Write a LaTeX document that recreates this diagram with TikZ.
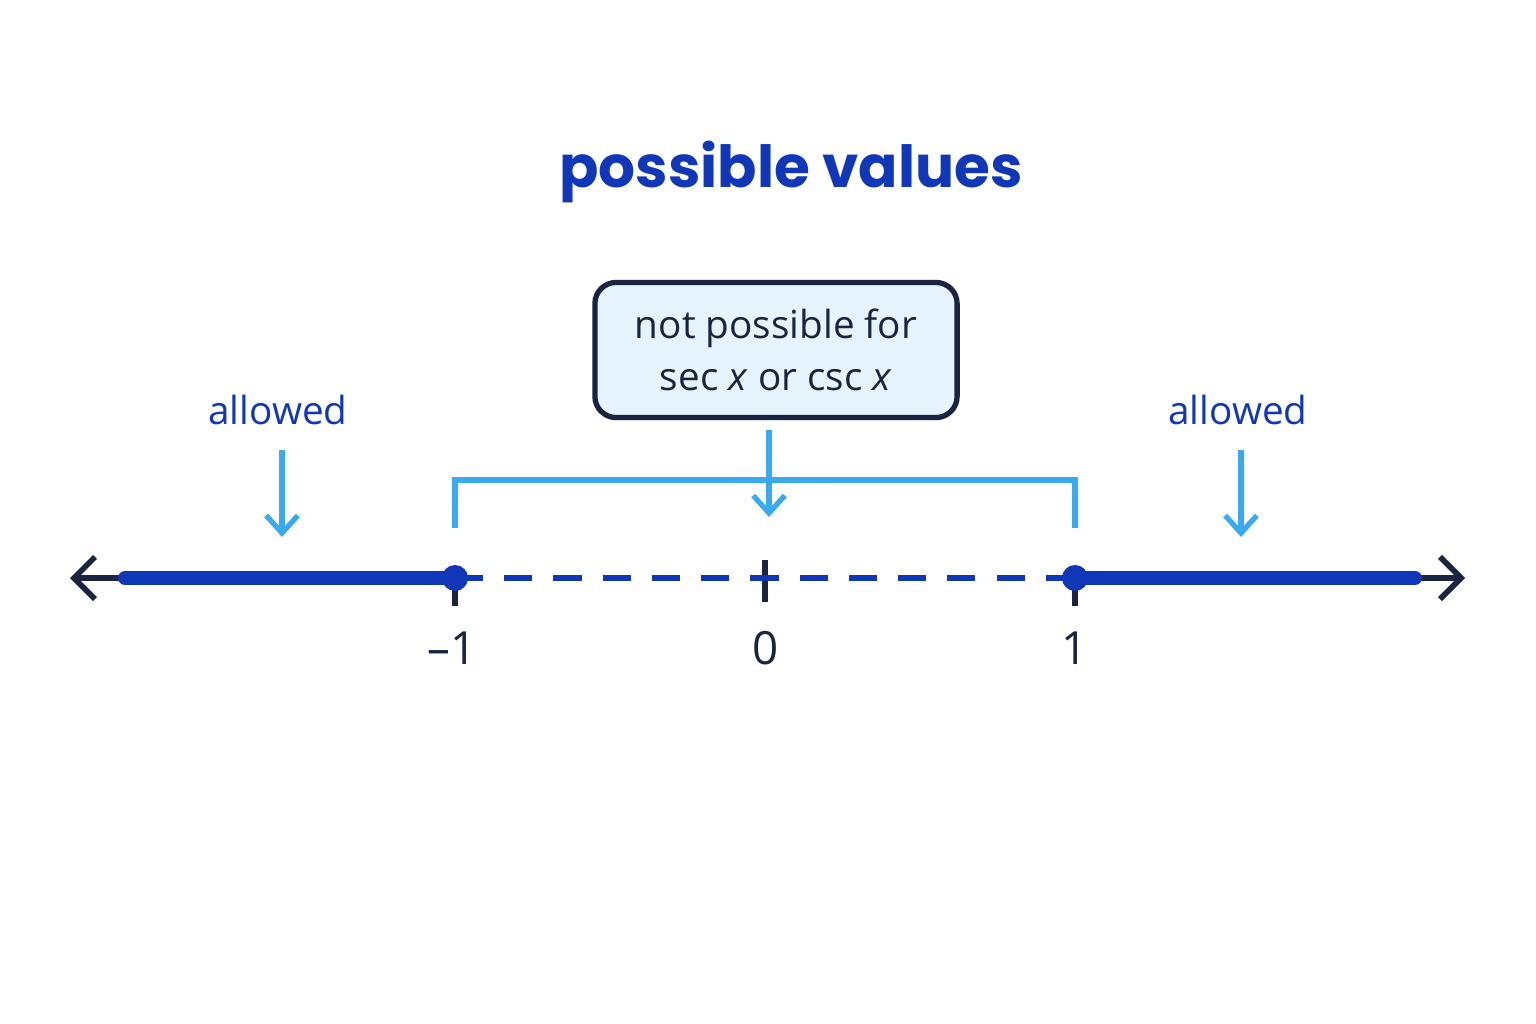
\documentclass[tikz,border=0pt]{standalone}
\usepackage{fontspec}
\setmainfont{Open Sans}
\newfontfamily\titlefont{Poppins}
\usetikzlibrary{arrows.meta}
\definecolor{navy}{HTML}{1A2340}
\definecolor{deepblue}{HTML}{0F37B8}
\definecolor{skyblue}{HTML}{3AAAF0}
\definecolor{boxfill}{HTML}{E6F2FC}
\tikzset{
    axis/.style={navy, line width=1.6pt},
    allowedseg/.style={deepblue, line width=4pt, line cap=round},
    pointer/.style={skyblue, line width=1.5pt, -{Straight Barb[length=5pt,width=9pt]}},
    endpt/.style={circle, fill=deepblue, inner sep=0pt, minimum size=0.26cm},
    numlabel/.style={text=navy, font=\fontsize{13}{15}\selectfont},
    bluelabel/.style={text=deepblue, font=\fontsize{11}{13}\selectfont}
}
\begin{document}
\begin{tikzpicture}[x=0.01cm, y=-0.01cm]
        \useasboundingbox (0, 0) rectangle (1536, 1024);
        \node[text=deepblue, font=\titlefont\bfseries\fontsize{16.5}{19}\selectfont] (title) at (791, 172) {possible values};

        % number line
        \coordinate (lend) at (70, 578);
        \coordinate (rend) at (1465, 578);
        \foreach \x/\name in {455/m, 765/z, 1075/p} {
            \coordinate (tick\name) at (\x, 578);
        }
        \draw[axis, {Straight Barb[length=6pt,width=12pt]}-] (lend) -- (tickm);
        \draw[axis, -{Straight Barb[length=6pt,width=12pt]}] (tickp) -- (rend);
        \draw[navy, line width=1.6pt] (455, 578) -- (455, 606);
        \draw[navy, line width=1.6pt] (765, 560) -- (765, 602);
        \draw[navy, line width=1.6pt] (1075, 578) -- (1075, 606);
        \draw[deepblue, line width=1.6pt, dash pattern=on 8pt off 6pt] (tickm) -- (tickp);
        \coordinate (lstart) at (125, 578);
        \coordinate (rstop) at (1415, 578);
        \draw[allowedseg] (lstart) -- (tickm);
        \draw[allowedseg] (tickp) -- (rstop);
        \node[endpt] (dotm) at (tickm) {};
        \node[endpt] (dotp) at (tickp) {};

        \node[numlabel] (labm) at (452, 648) {–1};
        \node[numlabel] (labz) at (766, 648) {0};
        \node[numlabel] (labp) at (1075, 648) {1};

        % excluded interval
        \node[draw=navy, line width=1.5pt, fill=boxfill, rounded corners=6pt,
              minimum width=3.62cm, minimum height=1.35cm, align=center, text=navy,
              font=\fontsize{11}{15}\selectfont] (note) at (776, 350)
              {not possible for\\sec \textit{x} or csc \textit{x}};
        \draw[skyblue, line width=1.5pt] (455, 528) |- (1075, 480) -- (1075, 528);
        \coordinate (notetip) at (769, 517);
        \draw[pointer] (769, 430) -- (notetip);

        % allowed regions
        \node[bluelabel] (allowl) at (278, 410) {allowed};
        \node[bluelabel] (allowr) at (1238, 410) {allowed};
        \coordinate (tipl) at (282, 537);
        \coordinate (tipr) at (1241, 537);
        \draw[pointer] (282, 450) -- (tipl);
        \draw[pointer] (1241, 450) -- (tipr);
    \end{tikzpicture}
\end{document}
